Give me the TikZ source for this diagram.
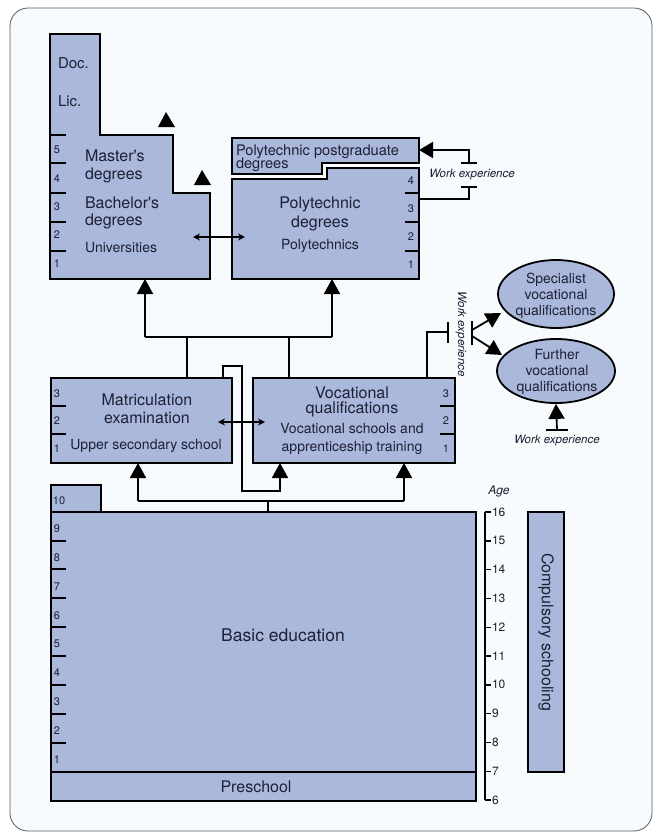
\documentclass[tikz,border=0pt]{standalone}
\usepackage{fontspec}
\setmainfont{TeX Gyre Heros}[Ligatures=TeXOff]
\usetikzlibrary{arrows.meta,shapes.geometric}
\definecolor{boxfill}{HTML}{AAB8DC}
\definecolor{txt}{HTML}{1E2035}
\definecolor{bg}{HTML}{F7FBFD}
\begin{document}
\begin{tikzpicture}[x=1pt,y=-1pt,
  box/.style={draw=black, line width=1.8pt, fill=boxfill, line join=miter},
  con/.style={draw=black, line width=1.8pt},
  tk/.style={draw=black, line width=1.8pt},
  arr/.style={-{Triangle[width=16pt,length=15pt]}},
  dbl/.style={draw=black, line width=1.4pt, {Stealth[length=7pt,width=7pt]}-{Stealth[length=7pt,width=7pt]}},
  lbl/.style={text=txt, inner sep=0pt, outer sep=0pt},
  t16/.style={lbl, font=\fontsize{16}{19}\selectfont},
  t15/.style={lbl, font=\fontsize{15}{18}\selectfont},
  t14/.style={lbl, font=\fontsize{14}{16}\selectfont},
  t12/.style={lbl, font=\fontsize{12}{14}\selectfont},
  num/.style={lbl, font=\fontsize{11}{13}\selectfont},
  we/.style={lbl, font=\fontsize{11.5}{13}\selectfont\itshape},
  ell/.style={ellipse, draw=black, line width=1.8pt, fill=boxfill, inner sep=0pt}
]
\useasboundingbox (0,0) rectangle (653,836);
\fill[white] (0,0) rectangle (653,836);
\draw[draw=black!65, line width=0.8pt, fill=bg, rounded corners=18pt] (10,8) rectangle (652,831);

% ---------- Universities ----------
\path[box] (50,34) -- (100,34) -- (100,135) -- (173,135) -- (173,193) -- (210,193) -- (210,279) -- (50,279) -- cycle;
\foreach \y in {135,163,193,222,251} \draw[tk] (50,\y) -- (66,\y);
\node[num] (u5) at (57,150) {5};
\node[num] (u4) at (57,179) {4};
\node[num] (u3) at (57,207) {3};
\node[num] (u2) at (57,235) {2};
\node[num] (u1) at (57,264) {1};
\node[t15, anchor=base west] (doc) at (58,68) {Doc.};
\node[t15, anchor=base west] (lic) at (58,106) {Lic.};
\node[t16, anchor=base west] (ma1) at (85,161) {Master's};
\node[t16, anchor=base west] (ma2) at (85,179) {degrees};
\node[t16, anchor=base west] (ba1) at (85,208) {Bachelor's};
\node[t16, anchor=base west] (ba2) at (85,225) {degrees};
\node[t14, anchor=base west] (univ) at (85,252) {Universities};
\fill (158,127) -- (166,112) -- (175,127) -- cycle;
\fill (194,185) -- (202,170) -- (211,185) -- cycle;

% ---------- Polytechnics ----------
\path[box] (232,138) -- (419,138) -- (419,163) -- (322,163) -- (322,174) -- (232,174) -- cycle;
\path[box] (232,179) -- (327,179) -- (327,168) -- (419,168) -- (419,279) -- (232,279) -- cycle;
\foreach \y in {193,222,251} \draw[tk] (405,\y) -- (419,\y);
\node[num] (p4) at (411,181) {4};
\node[num] (p3) at (411,209) {3};
\node[num] (p2) at (411,237) {2};
\node[num] (p1) at (411,265) {1};
\node[lbl, font=\fontsize{14.6}{16}\selectfont, anchor=base west] (pg1) at (236,155) {Polytechnic postgraduate};
\node[lbl, font=\fontsize{14.6}{16}\selectfont, anchor=base west] (pg2) at (236,168) {degrees};
\node[t16, anchor=base] (pd1) at (320,208) {Polytechnic};
\node[t16, anchor=base] (pd2) at (320,227) {degrees};
\node[t14, anchor=base] (pd3) at (320,249) {Polytechnics};

\coordinate (ua) at (193,237);
\coordinate (pa) at (245,237);
\draw[dbl] (ua) -- (pa);

% work experience -> postgraduate
\coordinate (pgin) at (419,150);
\coordinate (wb1) at (469,163);
\coordinate (wb2) at (469,187);
\coordinate (pdout) at (419,199);
\draw[con, -{Triangle[width=16pt,length=14pt]}] (wb1) |- (pgin);
\draw[con] (461,163) -- (477,163);
\draw[con] (461,187) -- (477,187);
\draw[con] (wb2) |- (pdout);
\node[we] (we1) at (472,175) {Work experience};

% ---------- Upper secondary ----------
\path[box] (51,378) rectangle (232,463);
\foreach \y in {406,434} \draw[tk] (51,\y) -- (66,\y);
\node[num] (m3) at (57,394) {3};
\node[num] (m2) at (57,421) {2};
\node[num] (m1) at (57,449) {1};
\node[t16, anchor=base] (mt1) at (147,405) {Matriculation};
\node[t16, anchor=base] (mt2) at (147,423) {examination};
\node[t14, anchor=base] (mt3) at (146,449) {Upper secondary school};

% ---------- Vocational ----------
\path[box] (253,378) rectangle (455,463);
\foreach \y in {406,434} \draw[tk] (440,\y) -- (455,\y);
\node[num] (v3) at (446,394) {3};
\node[num] (v2) at (446,421) {2};
\node[num] (v1) at (446,449) {1};
\node[t16, anchor=base] (vt1) at (352,398) {Vocational};
\node[t16, anchor=base] (vt2) at (352,413) {qualifications};
\node[t14, anchor=base] (vt3) at (352,433) {Vocational schools and};
\node[t14, anchor=base] (vt4) at (352,451) {apprenticeship training};

\coordinate (ma) at (218,422);
\coordinate (va) at (265,422);
\draw[dbl] (ma) -- (va);

% connectors up to higher education
\coordinate (uin) at (145,279);
\coordinate (pin) at (332,279);
\coordinate (ju) at (145,337);
\coordinate (jp) at (332,337);
\coordinate (jm) at (187,337);
\coordinate (jv) at (289,337);
\coordinate (mtop) at (187,378);
\coordinate (vtop) at (289,378);
\draw[con] (ju) -- (jp);
\draw[con] (jm) -- (mtop);
\draw[con] (jv) -- (vtop);
\draw[con, arr] (ju) -- (uin);
\draw[con, arr] (jp) -- (pin);

% upper secondary -> vocational loop
\coordinate (ls) at (223,378);
\coordinate (lv) at (280,463);
\draw[con, arr] (ls) -- (223,366) -- (242,366) -- (242,491) -- (280,491) -- (lv);

% work experience -> specialist / further
\coordinate (vw) at (427,378);
\coordinate (wb3) at (448,332);
\draw[con] (vw) |- (wb3);
\draw[con] (448,322) -- (448,343);
\draw[con] (472,321) -- (472,345);
\node[we, rotate=-90] (we2) at (461,334) {Work experience};

\node[ell, minimum width=116pt, minimum height=68pt] (spec) at (556,294) {};
\node[t14, anchor=base] (s1) at (556,283) {Specialist};
\node[t14, anchor=base] (s2) at (556,299) {vocational};
\node[t14, anchor=base] (s3) at (556,315) {qualifications};
\node[ell, minimum width=118pt, minimum height=64pt] (fur) at (556,371) {};
\node[t14, anchor=base] (f1) at (557,359) {Further};
\node[t14, anchor=base] (f2) at (557,375) {vocational};
\node[t14, anchor=base] (f3) at (557,391) {qualifications};

\coordinate (wa1) at (472,330);
\coordinate (wa2) at (472,336);
\draw[con, -{Triangle[width=16pt,length=15pt]}] (wa1) -- (501,313);
\draw[con, -{Triangle[width=16pt,length=15pt]}] (wa2) -- (502,355);

\coordinate (fw) at (557,430);
\draw[con, arr] (fw) -- (fur.south);
\draw[con] (546,430) -- (568,430);
\node[we, anchor=base] (we3) at (557,443) {Work experience};

% ---------- Basic education ----------
\path[box] (51,485) rectangle (101,512);
\path[box] (51,512) rectangle (476,772);
\path[box] (51,772) rectangle (476,801);
\foreach \y in {541,569,598,627,656,685,714,743} \draw[tk] (51,\y) -- (66,\y);
\node[num] (b10) at (59,501) {10};
\foreach \n in {1,...,9} \node[num] (b\n) at (57,{512+(9-\n)*28.8+17}) {\n};
\node[lbl, font=\fontsize{17.5}{20}\selectfont] (basic) at (283,635) {Basic education};
\node[t16] (pre) at (256,787) {Preschool};

\coordinate (am) at (138,463);
\coordinate (av) at (404,463);
\coordinate (bm) at (138,501);
\coordinate (bv) at (404,501);
\coordinate (bj) at (268,501);
\coordinate (btop) at (268,512);
\draw[con] (bm) -- (bv);
\draw[con] (bj) -- (btop);
\draw[con, arr] (bm) -- (am);
\draw[con, arr] (bv) -- (av);

% ---------- Age axis ----------
\draw[con, line width=1.4pt] (485,512) -- (485,800);
\foreach \a in {6,...,16} {
  \draw[tk, line width=1.4pt] (485,{512+(16-\a)*28.8}) -- (491,{512+(16-\a)*28.8});
  \node[t12, anchor=west] (age\a) at (492,{512+(16-\a)*28.8}) {\a};
}
\node[lbl, font=\fontsize{12}{14}\selectfont\itshape] (agelbl) at (499,491) {Age};

% ---------- Compulsory schooling ----------
\path[box] (528,512) rectangle (564,772);
\node[t16, rotate=-90] (comp) at (546,632) {Compulsory schooling};
\end{tikzpicture}
\end{document}
